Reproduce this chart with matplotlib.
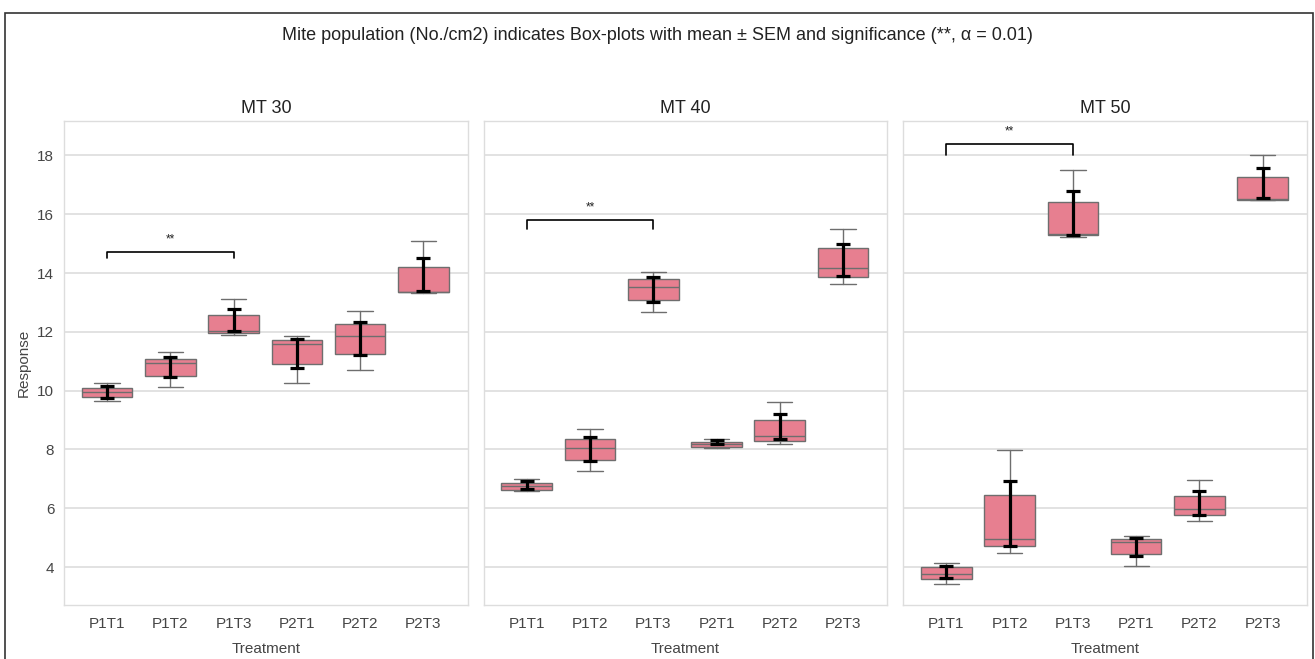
"""
Mite population box-plots with mean +/- SEM and significance brackets.
"""
import numpy as np
import matplotlib
matplotlib.use("Agg")
import matplotlib.pyplot as plt
from matplotlib.patches import Rectangle
import seaborn as sns

treatments = ["P1T1", "P1T2", "P1T3", "P2T1", "P2T2", "P2T3"]
panels = ["MT 30", "MT 40", "MT 50"]

# box stats per panel
whislo = [
    [9.66, 10.14, 11.88, 10.26, 10.71, 13.32],
    [6.59, 7.26, 12.66, 8.06, 8.18, 13.61],
    [3.43, 4.47, 15.24, 4.03, 5.56, 16.49],
]
q1 = [
    [9.77, 10.51, 11.96, 10.91, 11.25, 13.34],
    [6.61, 7.64, 13.08, 8.10, 8.29, 13.87],
    [3.59, 4.71, 15.28, 4.43, 5.76, 16.49],
]
med = [
    [9.94, 10.93, 12.02, 11.57, 11.85, 13.37],
    [6.76, 8.06, 13.53, 8.20, 8.46, 14.16],
    [3.77, 4.96, 15.34, 4.85, 5.98, 16.53],
]
q3 = [
    [10.10, 11.09, 12.56, 11.73, 12.27, 14.22],
    [6.87, 8.35, 13.78, 8.27, 9.01, 14.84],
    [4.00, 6.46, 16.41, 4.95, 6.41, 17.26],
]
whishi = [
    [10.26, 11.31, 13.13, 11.86, 12.70, 15.09],
    [6.99, 8.71, 14.05, 8.35, 9.60, 15.49],
    [4.13, 7.97, 17.49, 5.04, 6.95, 18.02],
]
means = [
    [9.96, 10.81, 12.39, 11.27, 11.76, 13.95],
    [6.79, 8.02, 13.44, 8.24, 8.78, 14.45],
    [3.84, 5.82, 16.03, 4.68, 6.17, 17.06],
]
sems = [
    [0.20, 0.35, 0.37, 0.50, 0.56, 0.57],
    [0.13, 0.42, 0.41, 0.07, 0.43, 0.54],
    [0.21, 1.10, 0.75, 0.31, 0.41, 0.51],
]

# significance bracket P1T1 vs P1T3 in each panel
bracket_pair = (0, 2)
bracket_y = [14.73, 15.82, 18.40]
bracket_drop = [0.23, 0.32, 0.40]
sig_label = "**"

sns.set_style("whitegrid")
plt.rcParams["font.family"] = ["Liberation Sans", "DejaVu Sans"]

box_color = "#e77f90"
line_gray = "#6e6e6e"
text_gray = "#454545"

fig, axes = plt.subplots(1, 3, figsize=(13.15, 6.59), dpi=100, sharey=True)
fig.subplots_adjust(left=64 / 1315, right=1307 / 1315, top=1 - 121 / 659,
                    bottom=1 - 605 / 659, wspace=16 / 403)

x = np.arange(len(treatments))
for k, ax in enumerate(axes):
    stats = []
    for i, t in enumerate(treatments):
        stats.append(dict(label=t, whislo=whislo[k][i], q1=q1[k][i], med=med[k][i],
                          q3=q3[k][i], whishi=whishi[k][i], fliers=[]))
    ax.bxp(stats, positions=x, widths=0.8, capwidths=0.4, patch_artist=True,
           showfliers=False,
           boxprops=dict(facecolor=box_color, edgecolor=line_gray, linewidth=1.0),
           medianprops=dict(color=line_gray, linewidth=1.0),
           whiskerprops=dict(color=line_gray, linewidth=1.0),
           capprops=dict(color=line_gray, linewidth=1.0))
    ax.errorbar(x, means[k], yerr=sems[k], fmt="none", ecolor="black",
                elinewidth=2.3, capsize=4.7, capthick=2.3, zorder=5)

    a, b = bracket_pair
    yb = bracket_y[k]
    ax.plot([a, a, b, b], [yb - bracket_drop[k], yb, yb, yb - bracket_drop[k]],
            color="black", lw=1.2)
    ax.text((a + b) / 2, yb + 0.22, sig_label, ha="center", va="bottom",
            fontsize=8.5, color="#222222")

    ax.set_title(panels[k], fontsize=13, color="#222222")
    ax.set_xticks(x)
    ax.set_xticklabels(treatments, fontsize=11, color=text_gray)
    ax.set_xlim(-0.68, 5.70)
    ax.set_xlabel("Treatment", fontsize=11, color=text_gray, labelpad=8)
    ax.grid(axis="x", visible=False)
    ax.grid(axis="y", color="#dddddd", linewidth=1.2)
    ax.tick_params(axis="y", labelsize=11, labelcolor=text_gray)
    ax.tick_params(axis="x", pad=5)
    for s in ax.spines.values():
        s.set_color("#dddddd")
        s.set_linewidth(1.0)

axes[0].set_ylim(2.71, 19.17)
axes[0].set_yticks([4, 6, 8, 10, 12, 14, 16, 18])
axes[0].set_ylabel("Response", fontsize=11, color=text_gray, labelpad=5)

fig.suptitle("Mite population (No./cm2) indicates Box-plots with mean \u00b1 SEM and "
             "significance (**, \u03b1 = 0.01)", fontsize=13, color="#222222",
             y=1 - 35 / 659, va="center")

# thin frame round the whole picture
fig.patches.append(Rectangle((5 / 1315, -0.05), 1308 / 1315, 1.05 - 13 / 659,
                             transform=fig.transFigure, fill=False,
                             edgecolor="#333333", linewidth=1.2))

fig.savefig("out.png", dpi=100)
